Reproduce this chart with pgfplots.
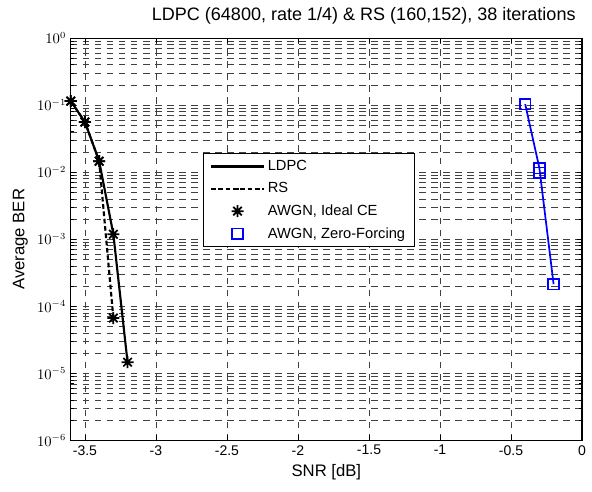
\documentclass[border=0pt]{standalone}
\usepackage{pgfplots}
\pgfplotsset{compat=1.18}
\usepackage{fontspec}
\setmainfont{Liberation Sans}
% MATLAB-like 8-armed asterisk
\pgfdeclareplotmark{ast8}{%
  \pgfpathmoveto{\pgfqpoint{-\pgfplotmarksize}{0pt}}\pgfpathlineto{\pgfqpoint{\pgfplotmarksize}{0pt}}%
  \pgfpathmoveto{\pgfqpoint{0pt}{-\pgfplotmarksize}}\pgfpathlineto{\pgfqpoint{0pt}{\pgfplotmarksize}}%
  \pgfpathmoveto{\pgfqpoint{-0.707\pgfplotmarksize}{-0.707\pgfplotmarksize}}\pgfpathlineto{\pgfqpoint{0.707\pgfplotmarksize}{0.707\pgfplotmarksize}}%
  \pgfpathmoveto{\pgfqpoint{-0.707\pgfplotmarksize}{0.707\pgfplotmarksize}}\pgfpathlineto{\pgfqpoint{0.707\pgfplotmarksize}{-0.707\pgfplotmarksize}}%
  \pgfusepathqstroke}
\begin{document}
\begin{tikzpicture}
\begin{semilogyaxis}[
    name=ax,
    width=383pt, height=301.5pt,
    scale only axis,
    xmin=-3.6, xmax=0,
    ymin=1e-6, ymax=1,
    xtick={-3.5,-3,-2.5,-2,-1.5,-1,-0.5,0},
    xticklabels={-3.5,-3,-2.5,-2,-1.5,-1,-0.5,0},
    ytick={1e-6,1e-5,1e-4,1e-3,1e-2,1e-1,1},
    tick align=inside,
    major tick length=4pt, minor tick length=2.5pt,
    xmajorgrids, ymajorgrids, yminorgrids,
    grid style={black!75, line width=0.45pt, dash pattern=on 5pt off 4pt},
    minor grid style={black!75, line width=0.45pt, dash pattern=on 5pt off 4pt},
    axis line style={black, line width=0.8pt},
    tick style={black, line width=0.5pt},
    ticklabel style={font=\fontsize{10.5}{12}\selectfont},
    xlabel={SNR [dB]}, ylabel={Average BER},
    label style={font=\fontsize{12.5}{14}\selectfont},
    title={LDPC (64800, rate 1/4) \& RS (160,152), 38 iterations},
    title style={font=\fontsize{13.5}{15}\selectfont, yshift=1pt, xshift=28pt},
    legend style={at={(0.258,0.714)}, anchor=north west, draw=black,
        line width=0.8pt, font=\fontsize{11}{13}\selectfont,
        row sep=3.5pt, inner xsep=5pt, inner ysep=3pt},
    legend image code/.code={%
        \draw[mark repeat=2,mark phase=2] plot coordinates {(0cm,0cm) (0.7cm,0cm) (1.4cm,0cm)};},
    legend cell align=left,
]
\addlegendimage{black, line width=1.6pt}
\addlegendentry{LDPC}
\addlegendimage{black, line width=1.6pt, dash pattern=on 3.5pt off 2pt}
\addlegendentry{RS}
\addlegendimage{only marks, mark=ast8, mark size=4.5pt, black, line width=1.3pt}
\addlegendentry{AWGN, Ideal CE}
\addlegendimage{only marks, mark=square, mark size=4pt, blue, line width=1.3pt}
\addlegendentry{AWGN, Zero-Forcing}
% RS, ideal CE
\addplot[black, line width=1.6pt, dash pattern=on 3.5pt off 2pt, mark=ast8,
    mark size=4.5pt, mark options={solid, line width=1.3pt}, forget plot] coordinates {
    (-3.6, 0.115) (-3.5, 0.056) (-3.4, 0.0146) (-3.3, 6.7e-5)
};
% LDPC, ideal CE
\addplot[black, line width=1.6pt, mark=ast8, mark size=4.5pt,
    mark options={line width=1.3pt}, forget plot] coordinates {
    (-3.6, 0.115) (-3.5, 0.056) (-3.4, 0.0146) (-3.3, 1.19e-3) (-3.2, 1.47e-5)
};
% zero-forcing
\addplot[blue, line width=1.3pt, mark=square, mark size=4pt,
    mark options={line width=1.3pt}, forget plot] coordinates {
    (-0.4, 0.1035) (-0.3, 0.0115) (-0.2, 2.14e-4)
};
\addplot[blue, only marks, mark=square, mark size=4pt,
    mark options={line width=1.3pt}, forget plot] coordinates {
    (-0.3, 0.0098)
};
\end{semilogyaxis}
\path ([shift={(-53pt,-38pt)}]ax.south west) ([shift={(7.5pt,28.5pt)}]ax.north east);
\end{tikzpicture}
\end{document}
